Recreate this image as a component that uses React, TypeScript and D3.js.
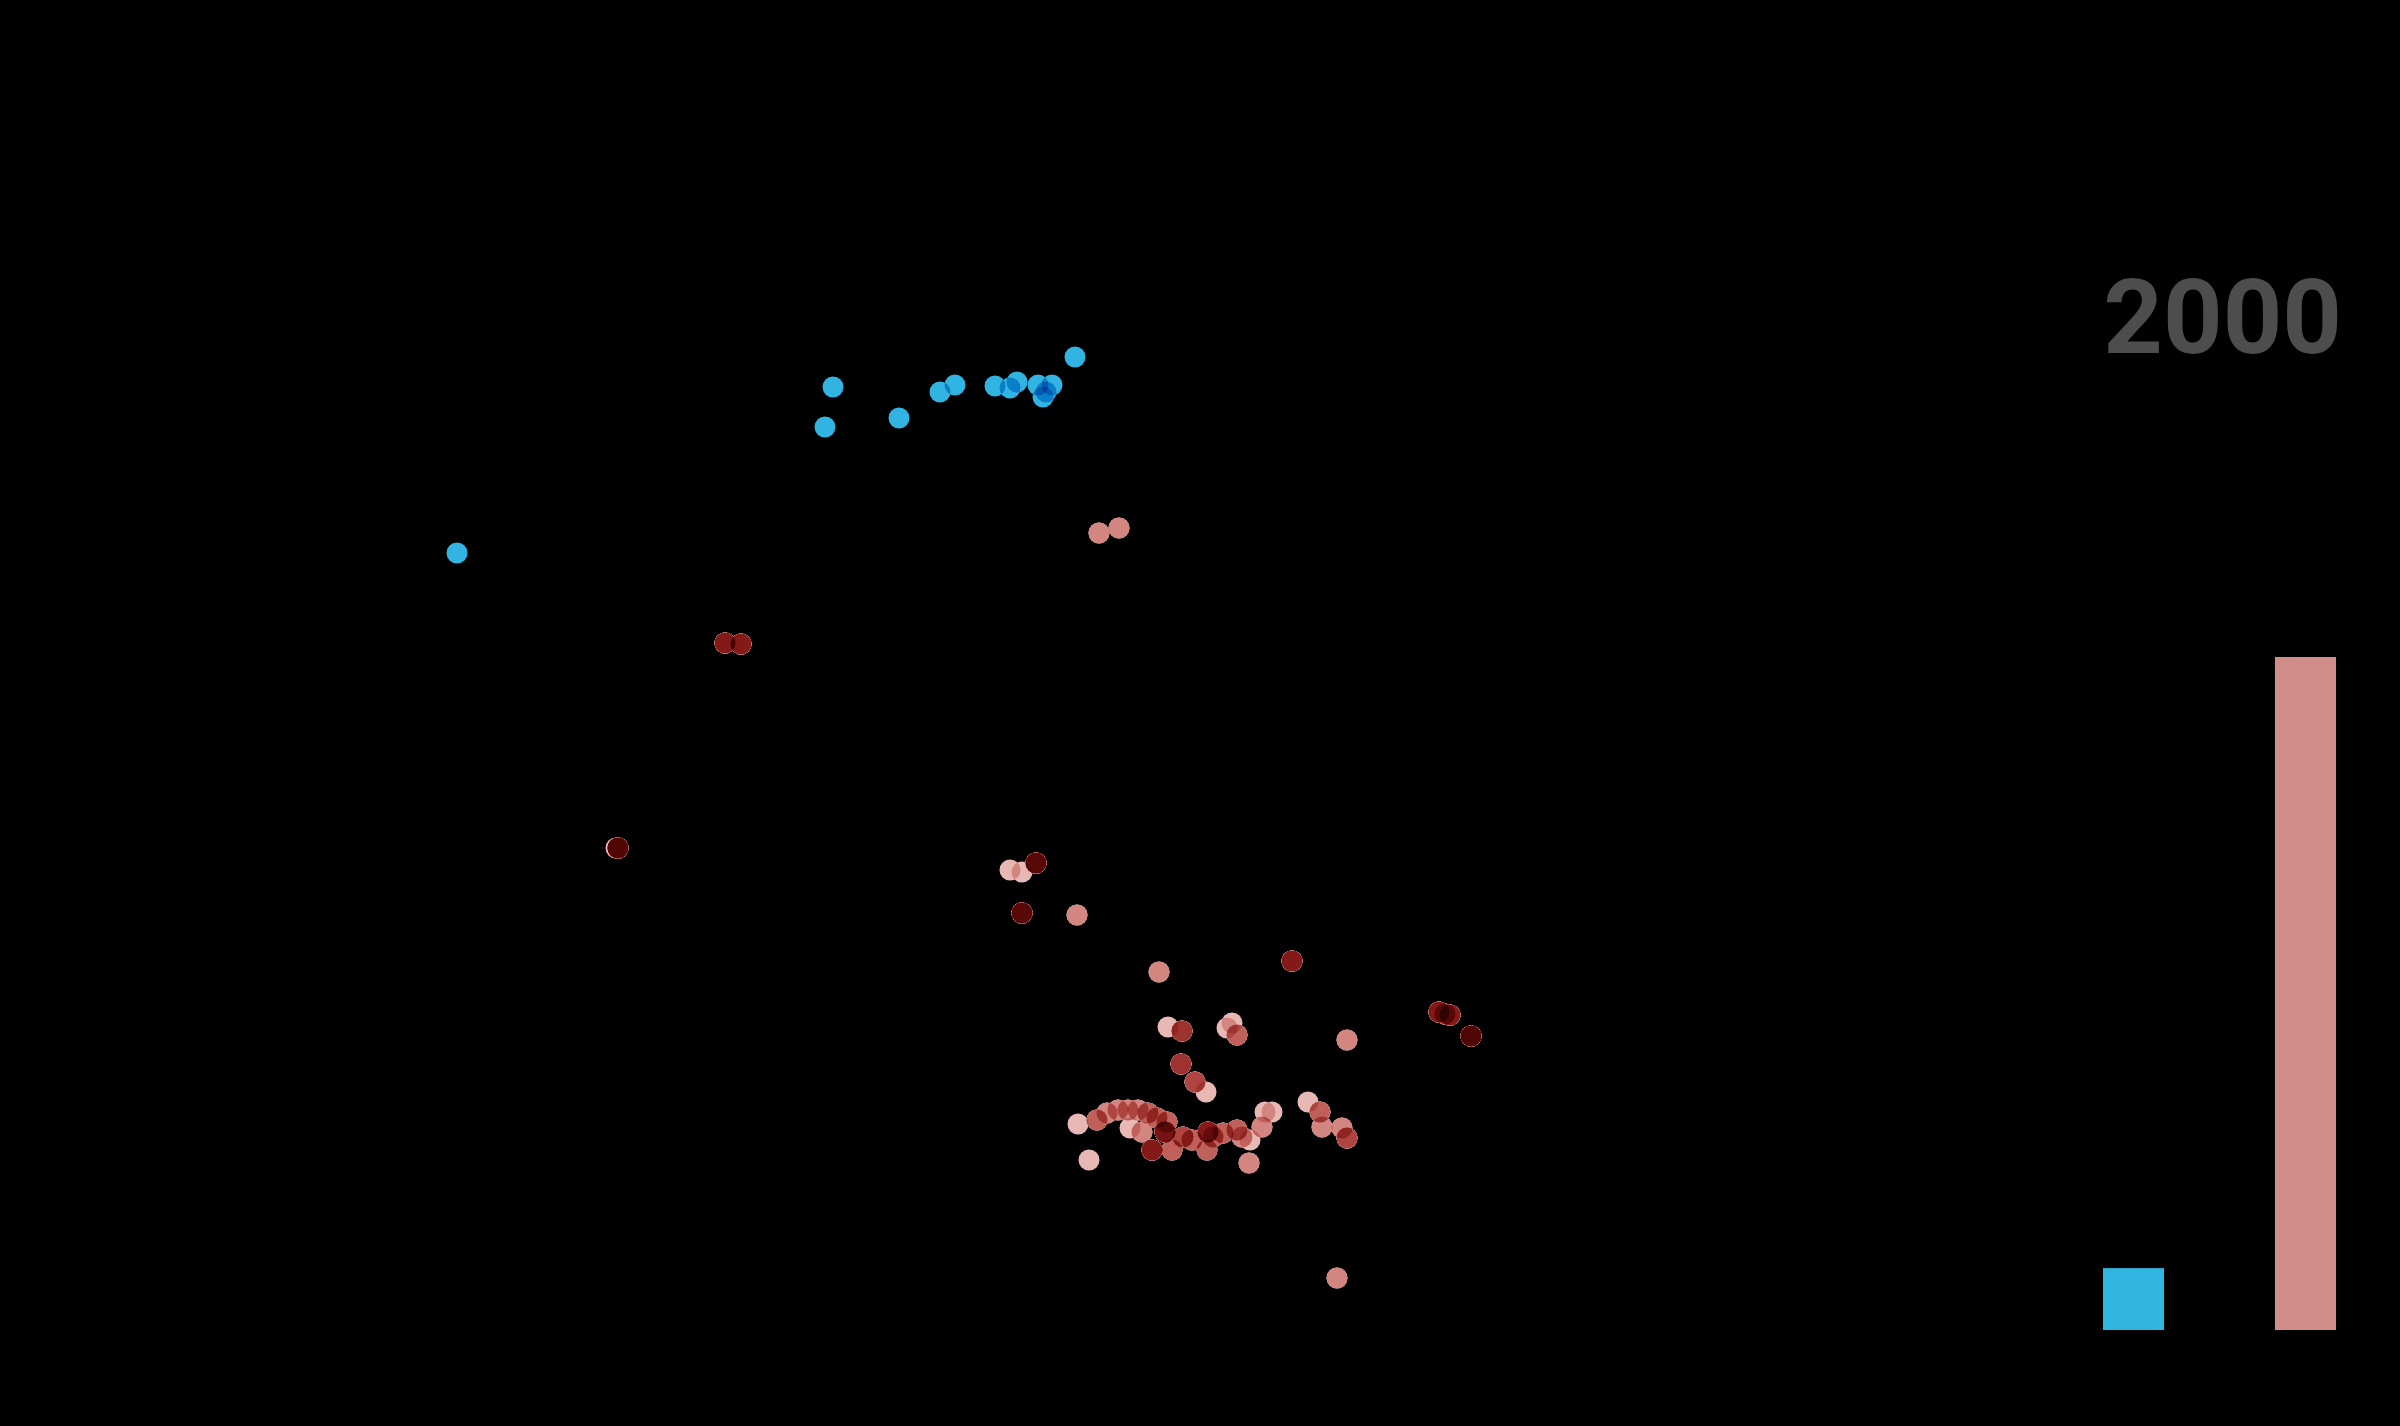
import React, { useEffect } from "react";
import * as d3 from "d3";

// year shown in the corner
const yearLabel = "2000";

// bar categories and counts
const barCategories = ["blue", "red"];
const barValues = [16, 174];

// blue points [x, y]
const bluePoints: [number, number][] = [
  [15.7, 74.7], [52.5, 87.3], [53.3, 91.3], [59.9, 88.2], [64.0, 90.8],
  [65.5, 91.5], [69.5, 91.4], [71.0, 91.2], [71.7, 91.8], [73.8, 91.5],
  [74.3, 90.3], [75.2, 91.5], [74.6, 90.8], [77.5, 94.3]
];

// red points [x, y, how many stacked on that spot]
const redPoints: [number, number, number][] = [
  [79.9, 76.7, 2], [81.9, 77.2, 2],
  [42.5, 65.7, 7], [44.1, 65.6, 7],
  [31.8, 45.2, 11], [31.6, 45.2, 1],
  [71.0, 43.0, 1], [72.2, 42.8, 1], [73.6, 43.7, 11],
  [72.2, 38.7, 11],
  [77.7, 38.5, 2],
  [85.9, 32.8, 2],
  [99.2, 33.9, 7],
  [86.8, 27.3, 1], [88.2, 26.9, 5],
  [92.7, 27.2, 1], [93.2, 27.7, 1], [93.7, 26.5, 3],
  [104.7, 26.0, 2],
  [88.1, 23.6, 5],
  [89.5, 21.8, 4],
  [90.6, 20.8, 1],
  [113.9, 28.8, 7], [114.5, 28.6, 4], [115.0, 28.5, 7],
  [117.1, 26.4, 12],
  [100.8, 19.8, 1], [102.0, 18.8, 3], [102.2, 17.3, 2], [104.2, 17.2, 2], [104.7, 16.2, 4],
  [77.8, 17.6, 1], [78.9, 14.0, 1],
  [79.7, 18.0, 3],
  [80.7, 18.7, 2], [81.8, 19.0, 2], [82.8, 19.0, 2], [83.8, 19.0, 2],
  [84.8, 18.7, 3], [85.7, 18.2, 3], [86.7, 17.8, 3],
  [83.0, 17.2, 1], [84.2, 16.8, 2],
  [86.5, 16.8, 8],
  [85.2, 15.0, 7],
  [87.2, 15.0, 3], [88.3, 16.3, 4], [89.2, 16.0, 3],
  [90.8, 16.8, 7], [91.3, 16.3, 3], [90.7, 15.0, 3],
  [92.3, 16.7, 3], [93.7, 17.0, 3], [94.2, 16.3, 2], [95.0, 16.0, 1],
  [94.9, 13.7, 2],
  [96.2, 17.3, 2], [96.5, 18.8, 1], [97.2, 18.8, 1],
  [103.7, 2.2, 2]
];

const width = 2400;
const height = 1426;

export default function App() {
  useEffect(() => {
    document.body.style.margin = "0";
    document.body.style.background = "#000";
  }, []);

  const x = d3.scaleLinear().domain([0, 130]).range([300, 1600]);
  const y = d3.scaleLinear().domain([0, 100]).range([1300, 300]);

  const xBar = d3.scaleBand().domain(barCategories).range([2103, 2336]).paddingInner(0.645).paddingOuter(0);
  const yBar = d3.scaleLinear().domain([0, 174]).range([1330, 657]);
  const barColor = d3.scaleOrdinal<string>().domain(barCategories).range(["#31b5e1", "#d18d89"]);

  const r = 10.5;

  // one circle per stacked point
  const redCircles = redPoints.flatMap((d) => d3.range(d[2]).map(() => [d[0], d[1]]));

  return (
    <svg width={width} height={height} style={{ display: "block" }}>
      <rect width={width} height={height} fill="#000" />
      <g style={{ isolation: "isolate" }}>
        {bluePoints.map((d, i) => (
          <circle key={"b" + i} cx={x(d[0])} cy={y(d[1])} r={r} fill="#31b4e2" style={{ mixBlendMode: "multiply" }} />
        ))}
        {redCircles.map((d, i) => (
          <circle key={"r" + i} cx={x(d[0])} cy={y(d[1])} r={r} fill="#e8b8b5" style={{ mixBlendMode: "multiply" }} />
        ))}
      </g>
      {barCategories.map((c, i) => (
        <rect key={c} x={xBar(c)} y={yBar(barValues[i])} width={xBar.bandwidth()}
          height={yBar(0) - yBar(barValues[i])} fill={barColor(c)} />
      ))}
      <text x={2342} y={353} textAnchor="end" fill="#4d4d4d"
        style={{ fontFamily: "Roboto", fontWeight: 700, fontSize: "104px" }}>{yearLabel}</text>
    </svg>
  );
}
